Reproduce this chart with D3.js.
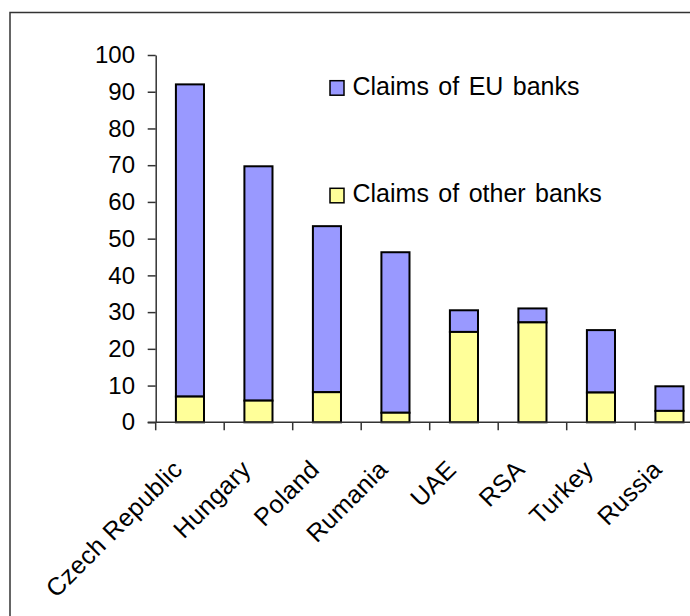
<!DOCTYPE html>
<html>
<head>
<meta charset="utf-8">
<script src="https://cdn.jsdelivr.net/npm/d3@7"></script>
<style>
  body { margin: 0; background: #fff; }
  svg { display: block; font-family: "Liberation Sans", Arial, sans-serif; }
</style>
</head>
<body>
<div id="chart"></div>
<script>
// values
const countries = ['Czech Republic', 'Hungary', 'Poland', 'Rumania', 'UAE', 'RSA', 'Turkey', 'Russia'];
const otherBanks = [7.0, 5.9, 8.2, 2.6, 24.6, 27.2, 8.1, 3.1];
const euBanks = [85.0, 63.8, 45.2, 43.7, 5.9, 3.8, 17.0, 6.7];
const yTicks = [0, 10, 20, 30, 40, 50, 60, 70, 80, 90, 100];
const seriesNames = ['Claims of EU banks', 'Claims of other banks'];
const colors = ['#9999ff', '#ffff99'];

const width = 690, height = 616;

const svg = d3.select('#chart').append('svg')
    .attr('width', width)
    .attr('height', height);

// outer frame (runs off the right and bottom edge)
svg.append('rect')
    .attr('x', 10).attr('y', 12.5)
    .attr('width', 720).attr('height', 700)
    .attr('fill', 'none')
    .attr('stroke', '#333')
    .attr('stroke-width', 1.5);

const x = d3.scaleBand()
    .domain(countries)
    .range([155.7, 155.7 + 68.5 * countries.length])
    .paddingInner(0.59)
    .paddingOuter(0.295);

const y = d3.scaleLinear()
    .domain([0, 100])
    .range([422.3, 55]);

const rows = countries.map((c, i) => ({ country: c, other: otherBanks[i], eu: euBanks[i] }));
const stack = d3.stack().keys(['eu', 'other']).order(d3.stackOrderReverse);
const layers = stack(rows);

// bars
svg.append('g')
  .selectAll('g')
  .data(layers)
  .join('g')
    .attr('fill', (d, i) => colors[i])
  .selectAll('rect')
  .data(d => d)
  .join('rect')
    .attr('x', d => x(d.data.country))
    .attr('y', d => y(d[1]))
    .attr('width', x.bandwidth())
    .attr('height', d => y(d[0]) - y(d[1]))
    .attr('stroke', '#000')
    .attr('stroke-width', 2);

// y axis
const yAxis = svg.append('g')
    .attr('transform', `translate(${x.range()[0]},0)`)
    .call(d3.axisLeft(y).tickValues(yTicks).tickSize(8).tickSizeOuter(0).tickPadding(12.7));
yAxis.selectAll('path, line').attr('stroke', '#333').attr('stroke-width', 1.5);
yAxis.selectAll('text').attr('font-size', 24).attr('fill', '#000')
    .style('font-family', '"Liberation Sans", Arial, sans-serif');

// x axis: ticks between categories
const x0 = x.range()[0];
svg.append('line')
    .attr('x1', x0 - 8).attr('x2', width + 10)
    .attr('y1', y(0)).attr('y2', y(0))
    .attr('stroke', '#333').attr('stroke-width', 1.5);
svg.append('g')
  .selectAll('line')
  .data(d3.range(countries.length + 1))
  .join('line')
    .attr('x1', i => x0 + i * x.step())
    .attr('x2', i => x0 + i * x.step())
    .attr('y1', y(0)).attr('y2', y(0) + 8)
    .attr('stroke', '#333').attr('stroke-width', 1.5);

svg.append('g')
  .selectAll('text')
  .data(countries)
  .join('text')
    .attr('transform', d => `translate(${x(d) + x.bandwidth() / 2 - 6},471) rotate(-45)`)
    .attr('text-anchor', 'end')
    .attr('font-size', 25)
    .attr('letter-spacing', 0.4)
    .text(d => d);

// legend
const legend = svg.append('g');
const legendY = [80.7, 188.3];
seriesNames.forEach((name, i) => {
  legend.append('rect')
      .attr('x', 330).attr('y', legendY[i])
      .attr('width', 14).attr('height', 14.5)
      .attr('fill', colors[i])
      .attr('stroke', '#000').attr('stroke-width', 1.5);
  legend.append('text')
      .attr('x', 352.5).attr('y', legendY[i] + 14)
      .attr('font-size', 25)
      .attr('word-spacing', 2.5)
      .text(name);
});
</script>
</body>
</html>
